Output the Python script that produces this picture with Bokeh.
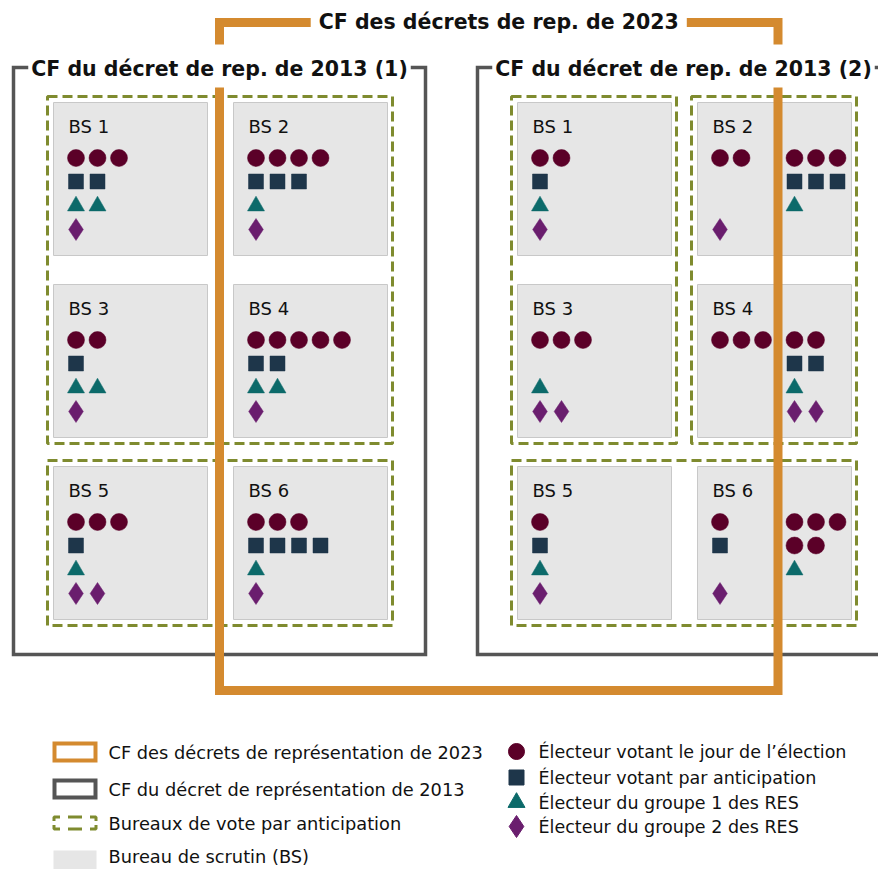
from bokeh.plotting import figure
from bokeh.models import Range1d
from bokeh.core.properties import value
from bokeh.embed import file_html
from bokeh.resources import INLINE

# ---------------- data ----------------
title_2023 = "CF des décrets de rep. de 2023"
panel_titles = ["CF du décret de rep. de 2013 (1)", "CF du décret de rep. de 2013 (2)"]
stations = ["BS 1", "BS 2", "BS 3", "BS 4", "BS 5", "BS 6"]

# Panel 1: electors per polling station
p1_day = [3, 4, 2, 5, 3, 3]
p1_adv = [2, 3, 1, 2, 1, 4]
p1_res1 = [2, 1, 2, 2, 1, 1]
p1_res2 = [1, 1, 1, 1, 2, 1]
# Panel 2: electors outside the 2023 CF (west part of each station)
p2_day = [2, 2, 3, 3, 1, 1]
p2_adv = [1, 0, 0, 0, 1, 1]
p2_res1 = [1, 0, 1, 0, 1, 0]
p2_res2 = [1, 1, 2, 0, 1, 1]
# Panel 2: electors inside the 2023 CF (east part of BS 2, 4, 6)
p2in_day = [0, 3, 0, 2, 0, 5]
p2in_adv = [0, 3, 0, 2, 0, 0]
p2in_res1 = [0, 1, 0, 1, 0, 1]
p2in_res2 = [0, 0, 0, 2, 0, 0]

# early voting offices (groups of polling stations, 1-based)
advance_groups = [[[1, 2, 3, 4], [5, 6]], [[1, 3], [2, 4], [5, 6]]]

legend_left = ["CF des décrets de représentation de 2023",
               "CF du décret de représentation de 2013",
               "Bureaux de vote par anticipation",
               "Bureau de scrutin (BS)"]
legend_right = ["Électeur votant le jour de l’élection",
                "Électeur votant par anticipation",
                "Électeur du groupe 1 des RES",
                "Électeur du groupe 2 des RES"]

# ---------------- style ----------------
ORANGE = "#d48a2f"
FRAME = "#555555"
GREEN = "#7f8b2f"
ST_FILL = "#e6e6e6"
ST_LINE = "#c8c8c8"
TYPES = ["circle", "square", "triangle", "diamond"]
COLORS = ["#5b0028", "#1e364a", "#0c6a6a", "#6a1e6e"]
SIZES = [17, 15, 17, 22]
FONT = "DejaVu Sans"

W, H = 878, 869
RW, RH = 878, 869
S = W / RW

p = figure(width=W, height=H, x_range=Range1d(0, RW), y_range=Range1d(RH, 0),
           output_backend="svg", toolbar_location=None, min_border=0,
           x_axis_location=None, y_axis_location=None)
p.grid.visible = False
p.outline_line_color = None

# layout constants
panel_x0 = [53, 517]
col_dx = 180
row_y0 = [102, 284, 466]
st_w, st_h = 154, 153
row_off = [55.5, 79, 103.5, 127]
col_step = 21.5
first_off = 22.5
group2_off = 97
frame_top, frame_bot = 67, 654
cf_x = [219, 777.5]
cf_top, cf_bot = 22, 690
cf_gap = (44, 87)


def st_box(panel, i):
    x0 = panel_x0[panel] + (i % 2) * col_dx
    y0 = row_y0[i // 2]
    return x0, y0


# panel frames
fl, fr = [], []
for k in range(2):
    fl.append(panel_x0[k] - 40)
    fr.append(panel_x0[k] + col_dx + st_w + 38)
p.quad(left=fl, right=fr, top=[frame_top] * 2, bottom=[frame_bot] * 2,
       fill_color=None, line_color=FRAME, line_width=3.5 * S, line_join="miter")

# polling stations
sl, sr, stp, sb, lx, ly, lt = [], [], [], [], [], [], []
for k in range(2):
    for i in range(6):
        x0, y0 = st_box(k, i)
        sl.append(x0); sr.append(x0 + st_w); stp.append(y0); sb.append(y0 + st_h)
        lx.append(x0 + 15); ly.append(y0 + 24); lt.append(stations[i])
p.quad(left=sl, right=sr, top=stp, bottom=sb, fill_color=ST_FILL,
       line_color=ST_LINE, line_width=1)
p.text(x=lx, y=ly, text=lt, text_font=value(FONT), text_font_size=f"{18*S:.1f}px",
       text_baseline="middle", text_align="left", text_color="#111111")

# early voting groups
gl, gr, gt, gb = [], [], [], []
for k in range(2):
    for grp in advance_groups[k]:
        xs0 = [st_box(k, i - 1)[0] for i in grp]
        ys0 = [st_box(k, i - 1)[1] for i in grp]
        gl.append(min(xs0) - 6); gr.append(max(xs0) + st_w + 5)
        gt.append(min(ys0) - 6); gb.append(max(ys0) + st_h + 6)
p.quad(left=gl, right=gr, top=gt, bottom=gb, fill_color=None, line_color=GREEN,
       line_width=3 * S, line_dash="10 5")

# electors
mx = {t: [] for t in TYPES}
my = {t: [] for t in TYPES}


def place(x_start, y0, counts, wrap=None):
    row_used = 0
    for t, n in enumerate(counts):
        if n == 0:
            continue
        r = max(t, row_used)
        per = wrap if wrap else n
        for j in range(n):
            rr = r + j // per
            cc = j % per
            mx[TYPES[t]].append(x_start + cc * col_step)
            my[TYPES[t]].append(y0 + row_off[rr])
            row_used = rr + 1


for i in range(6):
    x0, y0 = st_box(0, i)
    place(x0 + first_off, y0, [p1_day[i], p1_adv[i], p1_res1[i], p1_res2[i]])
    x0, y0 = st_box(1, i)
    place(x0 + first_off, y0, [p2_day[i], p2_adv[i], p2_res1[i], p2_res2[i]])
    place(x0 + group2_off, y0, [p2in_day[i], p2in_adv[i], p2in_res1[i], p2in_res2[i]], wrap=3)

for t, c, s in zip(TYPES, COLORS, SIZES):
    p.scatter(x=mx[t], y=my[t], marker=t, size=s * S, fill_color=c, line_color=c, line_width=0.5)

# 2023 CF boundary (orange)
p.multi_line(xs=[[cf_x[0], cf_x[0], cf_x[1], cf_x[1]], [cf_x[0], cf_x[0], cf_x[1], cf_x[1]]],
             ys=[[cf_gap[0], cf_top, cf_top, cf_gap[0]], [cf_gap[1], cf_bot, cf_bot, cf_gap[1]]],
             line_color=ORANGE, line_width=9 * S, line_join="miter")

# titles
p.text(x=[(cf_x[0] + cf_x[1]) / 2], y=[21], text=[title_2023], text_font=value(FONT),
       text_font_style="bold", text_font_size=f"{20.5*S:.1f}px", text_align="center",
       text_baseline="middle", text_color="#111111", background_fill_color="white", padding=8)
p.text(x=[(a + b) / 2 for a, b in zip(fl, fr)], y=[frame_top + 1] * 2, text=panel_titles,
       text_font=value(FONT), text_font_style="bold", text_font_size=f"{20.5*S:.1f}px",
       text_align="center", text_baseline="middle", text_color="#111111",
       background_fill_color="white", padding=3)

# ---------------- legend ----------------
lg_y = [751.5, 788.5, 823, 856]
p.quad(left=[54], right=[95], top=[743], bottom=[760], fill_color=None,
       line_color=ORANGE, line_width=4 * S, line_join="miter")
p.quad(left=[54], right=[95], top=[780], bottom=[797], fill_color=None,
       line_color=FRAME, line_width=4 * S, line_join="miter")
p.quad(left=[53.5], right=[95.5], top=[816.5], bottom=[828.5], fill_color=None,
       line_color=GREEN, line_width=3 * S, line_dash="10 8 14 8 10 4 10 8 14 8 10 4",
       line_dash_offset=4)
p.quad(left=[53], right=[96], top=[850], bottom=[872], fill_color=ST_FILL, line_color=None)
p.text(x=[108] * 4, y=lg_y, text=legend_left, text_font=value(FONT),
       text_font_size=f"{17.8*S:.1f}px", text_baseline="middle", text_color="#111111")

rl_y = [751, 777, 802, 826]
for t, c, s, yy in zip(TYPES, COLORS, [16, 15, 17, 22], rl_y):
    p.scatter(x=[516], y=[yy], marker=t, size=s * S, fill_color=c, line_color=c)
p.text(x=[538] * 4, y=rl_y, text=legend_right, text_font=value(FONT),
       text_font_size=f"{17.5*S:.1f}px", text_baseline="middle", text_color="#111111")

open("out.html", "w").write(file_html(p, INLINE))
